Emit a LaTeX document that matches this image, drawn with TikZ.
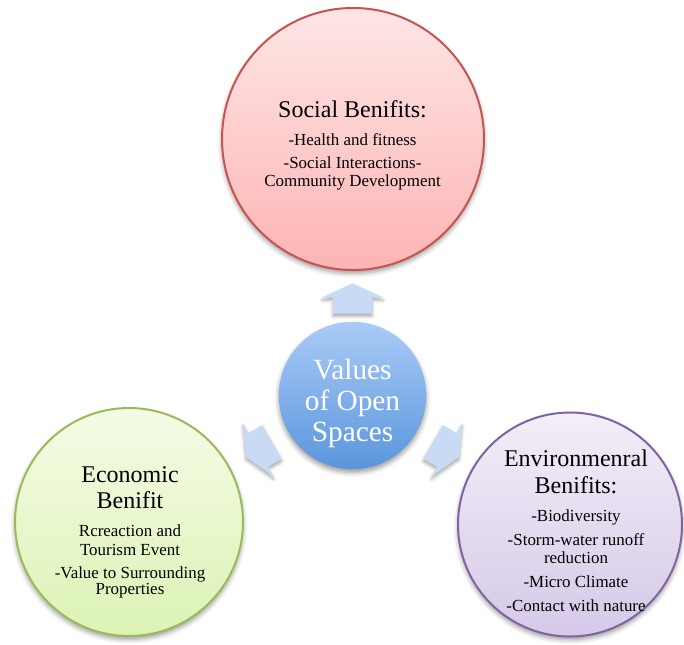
\documentclass[tikz,border=0pt]{standalone}
\usepackage{fontspec}
\setmainfont{Liberation Serif}
\usetikzlibrary{shadows.blur}
\definecolor{socTop}{HTML}{FEE6E6}
\definecolor{socBot}{HTML}{FDB4B4}
\definecolor{socLine}{HTML}{C8534F}
\definecolor{ctrTop}{HTML}{AACBF7}
\definecolor{ctrBot}{HTML}{5A96DC}
\definecolor{ecoTop}{HTML}{F5FBE6}
\definecolor{ecoBot}{HTML}{DCF3B5}
\definecolor{ecoLine}{HTML}{9BBB59}
\definecolor{envTop}{HTML}{F3EEF8}
\definecolor{envBot}{HTML}{D5C9E8}
\definecolor{envLine}{HTML}{8064A2}
\definecolor{arrC}{HTML}{C8DAF4}
\begin{document}
\begin{tikzpicture}[x=0.75pt,y=-0.75pt,
  softshadow/.style={blur shadow={shadow xshift=0pt,shadow yshift=-2.5pt,shadow blur radius=3.5pt,shadow opacity=40}},
  bubble/.style={circle,inner sep=0pt,line width=1.5pt,softshadow},
  ttl/.style={anchor=base,inner sep=0pt,font=\fontsize{18}{20}\selectfont},
  sub/.style={anchor=base,inner sep=0pt,font=\fontsize{12.7}{14}\selectfont},
  ctr/.style={anchor=base,inner sep=0pt,text=white,font=\fontsize{22}{24}\selectfont},
  blockarrow/.style={fill=arrC,draw=none,blur shadow={shadow xshift=0pt,shadow yshift=-2pt,shadow blur radius=2.5pt,shadow opacity=35}}
]
\useasboundingbox (0,0) rectangle (684,644);

% circles
\node[bubble,draw=socLine,top color=socTop,bottom color=socBot,minimum size=196.5pt] (social) at (353,139) {};
\node[bubble,draw=ecoLine,top color=ecoTop,bottom color=ecoBot,minimum size=171pt] (econ) at (129,522) {};
\node[bubble,draw=envLine,top color=envTop,bottom color=envBot,minimum size=168pt] (env) at (570,524.5) {};
\node[bubble,draw=none,top color=ctrTop,bottom color=ctrBot,minimum size=110.5pt] (center) at (352.5,395.5) {};

% block arrows
\begin{scope}[shift={(352.5,298.5)}]
  \fill[blockarrow] (0,-15) -- (30.5,-1) -- (19.5,-1) -- (19.5,15) -- (-19.5,15) -- (-19.5,-1) -- (-30.5,-1) -- cycle;
\end{scope}
\begin{scope}[shift={(259,449.5)},rotate=120]
  \fill[blockarrow] (0,-15) -- (30.5,-1) -- (19.5,-1) -- (19.5,15) -- (-19.5,15) -- (-19.5,-1) -- (-30.5,-1) -- cycle;
\end{scope}
\begin{scope}[shift={(446,449.5)},rotate=-120]
  \fill[blockarrow] (0,-15) -- (30.5,-1) -- (19.5,-1) -- (19.5,15) -- (-19.5,15) -- (-19.5,-1) -- (-30.5,-1) -- cycle;
\end{scope}

% social text
\node[ttl] (socT) at (352.5,117) {Social Benifits:};
\node[sub] (socA) at (352.5,145) {-Health and fitness};
\node[sub] (socB) at (352.5,168) {-Social Interactions-};
\node[sub] (socC) at (352.5,186) {Community Development};

% center text
\node[ctr] (ctrA) at (352.5,379) {Values};
\node[ctr] (ctrB) at (352.5,410) {of Open};
\node[ctr] (ctrC) at (352.5,441) {Spaces};

% economic text
\node[ttl] (ecoT1) at (130,482) {Economic};
\node[ttl] (ecoT2) at (130,508) {Benifit};
\node[sub] (ecoA) at (130,536) {Rcreaction and};
\node[sub] (ecoB) at (130,555) {Tourism Event};
\node[sub] (ecoC) at (130,578) {-Value to Surrounding};
\node[sub] (ecoD) at (130,594.5) {Properties};

% environmental text
\node[ttl] (envT1) at (576,466) {Environmenral};
\node[ttl] (envT2) at (576,493) {Benifits:};
\node[sub] (envA) at (576,521) {-Biodiversity};
\node[sub] (envB) at (576,545) {-Storm-water runoff};
\node[sub] (envC) at (576,563) {reduction};
\node[sub] (envD) at (576,587) {-Micro Climate};
\node[sub] (envE) at (576,611) {-Contact with nature};
\end{tikzpicture}
\end{document}
